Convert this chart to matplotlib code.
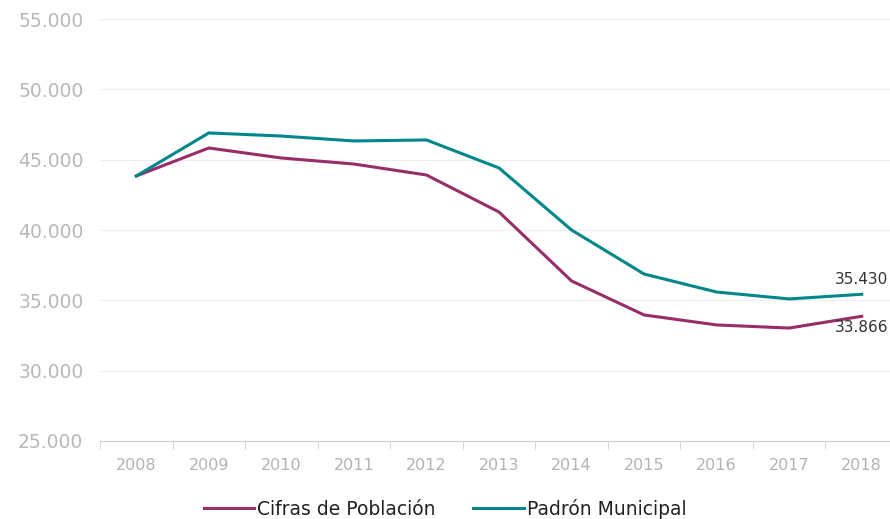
import matplotlib
matplotlib.use("Agg")
import matplotlib.pyplot as plt
from matplotlib.ticker import FuncFormatter

years = ["2008", "2009", "2010", "2011", "2012", "2013", "2014", "2015", "2016", "2017", "2018"]
cifras = [43840, 45830, 45120, 44690, 43910, 41280, 36380, 33960, 33250, 33030, 33866]
padron = [43840, 46900, 46680, 46330, 46400, 44410, 40000, 36870, 35590, 35100, 35430]

W, H = 890, 519
fig = plt.figure(figsize=(W / 100, H / 100), dpi=100)
ax = fig.add_axes([100 / W, 1 - 441 / H, 798 / W, 422 / H])

c_cif = "#982D69"
c_pad = "#00878A"
x = list(range(len(years)))
ax.plot(x, cifras, color=c_cif, lw=2.2, label="Cifras de Población", solid_joinstyle="miter")
ax.plot(x, padron, color=c_pad, lw=2.2, label="Padrón Municipal", solid_joinstyle="miter")

ax.set_xlim(-0.5, len(years) - 0.5)
ax.set_ylim(25000, 55000)
ax.set_yticks(range(25000, 55001, 5000))
ax.yaxis.set_major_formatter(FuncFormatter(lambda v, p: f"{int(v):,}".replace(",", ".")))
ax.grid(axis="y", color="#eeeeee", lw=0.8)
ax.set_axisbelow(True)
for s in ["top", "right", "left"]:
    ax.spines[s].set_visible(False)
ax.spines["bottom"].set_color("#cccccc")
ax.tick_params(axis="y", length=0, pad=12, labelsize=13.5, labelcolor="#b8b8b8")
ax.set_xticks(x)
ax.set_xticklabels(years)
ax.set_xticks([i - 0.5 for i in range(len(years) + 1)], minor=True)
ax.tick_params(axis="x", which="major", length=0, pad=12, labelsize=11.5, labelcolor="#b3b3b3")
ax.tick_params(axis="x", which="minor", length=6, color="#cccccc")

ax.annotate(f"{padron[-1]:,}".replace(",", "."), (x[-1], padron[-1]), xytext=(0, 5),
            textcoords="offset points", ha="center", va="bottom", fontsize=11, color="#333333")
ax.annotate(f"{cifras[-1]:,}".replace(",", "."), (x[-1], cifras[-1]), xytext=(0, -3),
            textcoords="offset points", ha="center", va="top", fontsize=11, color="#333333")

leg = fig.legend(loc="center", bbox_to_anchor=(445 / W, 1 - 509 / H), ncol=2, frameon=False,
                 fontsize=13.5, handlelength=2.7, handletextpad=0.15, columnspacing=2.0)
for t in leg.get_texts():
    t.set_color("#222222")

fig.savefig("out.png", dpi=100)
